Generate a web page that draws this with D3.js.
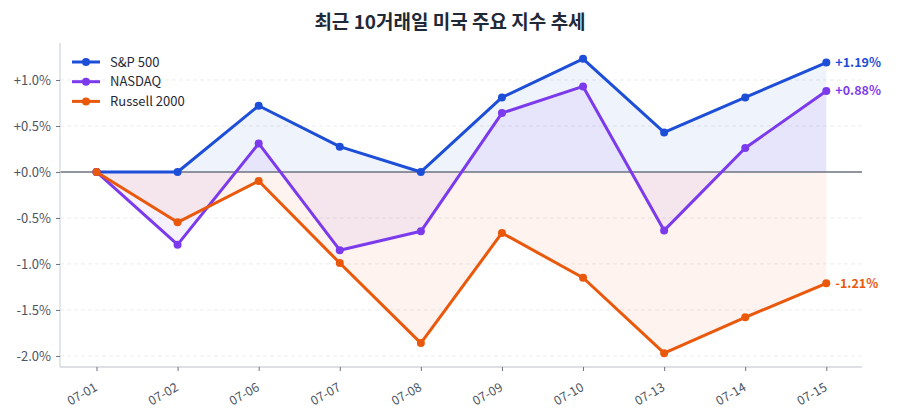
<!DOCTYPE html>
<html><head><meta charset="utf-8">
<script src="https://cdn.jsdelivr.net/npm/d3@7"></script>
<style>body{margin:0;background:#fff;} svg{display:block;font-family:"Noto Sans CJK KR","Noto Sans",sans-serif;}</style>
</head><body>
<svg id="chart" width="900" height="420"></svg>
<script>
const dates = ["07-01","07-02","07-06","07-07","07-08","07-09","07-10","07-13","07-14","07-15"];
const spx = [0, 0, 0.72, 0.275, 0, 0.81, 1.23, 0.43, 0.81, 1.19];
const ndx = [0, -0.79, 0.31, -0.85, -0.645, 0.64, 0.93, -0.635, 0.26, 0.88];
const rut = [0, -0.547, -0.098, -0.99, -1.86, -0.663, -1.15, -1.97, -1.58, -1.21];
const seriesNames = ["S&P 500", "NASDAQ", "Russell 2000"];
const yTicks = [1.0, 0.5, 0.0, -0.5, -1.0, -1.5, -2.0];
const titleText = "최근 10거래일 미국 주요 지수 추세";

const colors = ["#1d4ed8", "#7c3aed", "#ea580c"];
const series = [spx, ndx, rut].map((v, i) => ({name: seriesNames[i], values: v, color: colors[i]}));

const svg = d3.select("#chart");
const L = 60, R = 862, T = 43, B = 367;
const x = d3.scaleLinear().domain([-0.45, dates.length - 1 + 0.44]).range([L, R]);
const y = d3.scaleLinear().domain([-2.12, 1.402]).range([B, T]);

svg.append("text").attr("x", 450).attr("y", 29).attr("text-anchor", "middle")
  .attr("font-size", 19).attr("font-weight", 700).attr("fill", "#1f2937").text(titleText);

// grid
svg.append("g").selectAll("line").data(yTicks.filter(d => d !== 0)).join("line")
  .attr("x1", L).attr("x2", R).attr("y1", d => y(d)).attr("y2", d => y(d))
  .attr("stroke", "#e5e7eb").attr("stroke-dasharray", "4,3").attr("stroke-width", 0.8);

// areas
const area = d3.area().x((d, i) => x(i)).y0(y(0)).y1(d => y(d));
series.forEach(s => {
  svg.append("path").datum(s.values).attr("d", area).attr("fill", s.color).attr("fill-opacity", 0.07);
});

// zero line
svg.append("line").attr("x1", L).attr("x2", R).attr("y1", y(0)).attr("y2", y(0))
  .attr("stroke", "#6b7280").attr("stroke-width", 1.5);

// axes
const yAxis = d3.axisLeft(y).tickValues(yTicks).tickSize(4).tickPadding(5)
  .tickFormat(d => (d >= 0 ? "+" : "") + d.toFixed(1) + "%");
const gy = svg.append("g").attr("transform", `translate(${L},0)`).call(yAxis);
gy.attr("font-size", null).attr("font-family", null);
gy.select(".domain").attr("d", `M0,${T}V${B}`).attr("stroke", "#d1d5db").attr("stroke-width", 1.2);
gy.selectAll(".tick line").attr("stroke", "#6b7280");
gy.selectAll(".tick text").attr("fill", "#4b5563").style("font-size", "13px");

const xAxis = d3.axisBottom(x).tickValues(d3.range(dates.length)).tickSize(4).tickPadding(6)
  .tickFormat(i => dates[i]);
const gx = svg.append("g").attr("transform", `translate(0,${B})`).call(xAxis);
gx.attr("font-size", null).attr("font-family", null);
gx.select(".domain").attr("d", `M${L},0H${R}`).attr("stroke", "#d1d5db").attr("stroke-width", 1.5);
gx.selectAll(".tick line").attr("stroke", "#6b7280");
gx.selectAll(".tick text").attr("fill", "#4b5563").style("font-size", "12.5px")
  .attr("text-anchor", "end").attr("x", 0).attr("y", 0).attr("dy", "0.35em")
  .attr("transform", "translate(-1,19) rotate(-30)");

// lines and markers
const line = d3.line().x((d, i) => x(i)).y(d => y(d));
series.forEach(s => {
  svg.append("path").datum(s.values).attr("d", line).attr("fill", "none")
    .attr("stroke", s.color).attr("stroke-width", 3).attr("stroke-linejoin", "round");
  svg.append("g").selectAll("circle").data(s.values).join("circle")
    .attr("cx", (d, i) => x(i)).attr("cy", d => y(d)).attr("r", 4).attr("fill", s.color);
  const last = s.values[s.values.length - 1];
  svg.append("text").attr("x", x(s.values.length - 1) + 9).attr("y", y(last)).attr("dy", "0.35em")
    .attr("font-size", 12.5).attr("font-weight", 700).attr("fill", s.color)
    .text((last >= 0 ? "+" : "") + last.toFixed(2) + "%");
});

// legend
const lg = svg.append("g");
series.forEach((s, i) => {
  const yy = 62 + i * 19.7;
  lg.append("line").attr("x1", 72).attr("x2", 100).attr("y1", yy).attr("y2", yy)
    .attr("stroke", s.color).attr("stroke-width", 3);
  lg.append("circle").attr("cx", 86).attr("cy", yy).attr("r", 4).attr("fill", s.color);
  lg.append("text").attr("x", 110).attr("y", yy).attr("dy", "0.35em").attr("font-size", 13)
    .attr("fill", "#1f2937").text(s.name);
});
</script>
</body></html>
